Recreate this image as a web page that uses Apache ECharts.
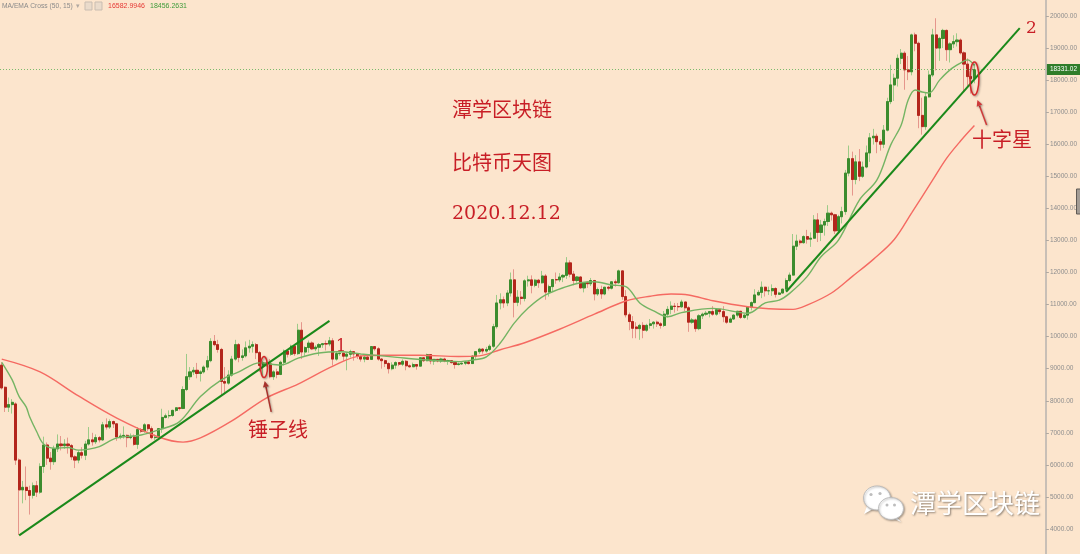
<!DOCTYPE html>
<html><head><meta charset="utf-8">
<script src="https://cdn.jsdelivr.net/npm/echarts@6/dist/echarts.min.js"></script>
<style>html,body{margin:0;padding:0;background:#FCE5CD;}#c{width:1080px;height:554px;}</style>
</head><body><div id="c"></div>
<script>
// Daily candles [open, close, low, high], 2020-03-08 .. 2020-12-12
const mar = [[9110,8400,8350,9200],[8420,7800,7650,8450],[7800,7880,7650,8100],[7880,7950,7600,8050],[7900,6150,6000,7950],[6150,5220,3810,6200],[5220,5300,4800,5500],[5300,5200,4900,5950],[5200,5050,4450,5350],[5050,5350,4950,5450],[5350,5150,5000,5500],[5150,5950,5100,6050],[5950,6620,5750,6880],[6620,6210,6000,6700],[6210,6100,5850,6400],[6100,6500,6000,6600],[6500,6650,6400,6950],[6650,6600,6450,6900],[6600,6650,6500,6800],[6650,6600,6350,6850],[6600,6250,6150,6650],[6250,6150,5900,6300],[6150,6380,6050,6450],[6380,6300,6200,6550]];
const apr = [[6300,6650,6150,6750],[6650,6780,6600,7180],[6780,6720,6600,7000],[6720,6850,6650,6950],[6850,6780,6700,6900],[6780,7250,6750,7340],[7250,7180,7100,7450],[7180,7350,7120,7420],[7350,7280,7150,7380],[7280,6870,6750,7300],[6870,6900,6800,6980],[6900,6920,6820,7200],[6920,6850,6550,6950],[6850,6870,6800,6980],[6870,6640,6600,6950],[6640,7100,6500,7180],[7100,7050,7000,7150],[7050,7250,7000,7300],[7250,7130,7050,7270],[7130,6850,6800,7200],[6850,6860,6780,6950],[6860,7130,6850,7150],[7130,7480,7000,7750],[7480,7530,7450,7600],[7530,7540,7450,7700],[7540,7700,7500,7720],[7700,7780,7650,7800],[7780,7760,7700,7800],[7760,8350,7740,8450],[8350,8750,8300,9460]];
const may = [[8750,8900,8650,9050],[8900,8950,8800,9050],[8950,8850,8700,9180],[8850,8900,8600,8950],[8900,9050,8850,9100],[9050,9250,8950,9400],[9250,9850,9200,9950],[9850,9750,9700,10050],[9750,9600,9500,9900],[9600,8600,8150,9650],[8600,8550,8200,9050],[8550,8800,8500,8950],[8800,9300,8750,9400],[9300,9750,9250,9900],[9750,9350,9200,9800],[9350,9400,9250,9600],[9400,9650,9350,9850],[9650,9700,9500,9900],[9700,9750,9500,9850],[9750,9500,9300,9800],[9500,9100,8900,9550],[9100,9180,8780,9250],[9180,9150,9050,9300],[9150,8750,8700,9300],[8750,8900,8650,8950],[8900,8820,8700,9000],[8820,9200,8800,9250],[9200,9550,9100,9600],[9550,9450,9350,9600],[9450,9700,9400,9750],[9700,9470,9400,9750]];
const jun = [[9470,10200,9430,10400],[10200,9520,9300,10450],[9520,9660,9400,9700],[9660,9800,9500,9880],[9800,9620,9580,9850],[9620,9670,9550,9730],[9670,9750,9400,9800],[9750,9780,9650,9800],[9780,9770,9570,9880],[9770,9870,9700,9990],[9870,9300,9100,9950],[9300,9470,9250,9550],[9470,9480,9400,9500],[9480,9390,9250,9500],[9390,9450,8950,9500],[9450,9530,9350,9590],[9530,9460,9250,9550],[9460,9380,9300,9480],[9380,9300,9220,9420],[9300,9360,9200,9400],[9360,9290,9270,9420],[9290,9690,9280,9700],[9690,9620,9560,9700],[9620,9300,9250,9670],[9300,9250,9000,9330],[9250,9160,9050,9280],[9160,9000,8850,9200],[9000,9110,8950,9200],[9110,9190,9000,9230],[9190,9140,9080,9200]];
const jul = [[9140,9230,9080,9290],[9230,9090,8950,9270],[9090,9060,9030,9130],[9060,9130,9050,9190],[9130,9080,8970,9140],[9080,9340,9060,9360],[9340,9250,9210,9360],[9250,9440,9230,9470],[9440,9240,9140,9450],[9240,9290,9120,9300],[9290,9240,9200,9300],[9240,9300,9180,9340],[9300,9240,9200,9340],[9240,9250,9120,9280],[9250,9190,9160,9270],[9190,9130,9000,9200],[9130,9150,9100,9190],[9150,9170,9120,9190],[9170,9210,9110,9240],[9210,9160,9130,9220],[9160,9390,9150,9420],[9390,9530,9290,9540],[9530,9610,9460,9650],[9610,9550,9470,9640],[9550,9600,9500,9680],[9600,9700,9550,9760],[9700,10310,9650,10400],[10310,11050,10250,11300],[11050,11150,10850,11350],[11150,11050,10900,11250],[11050,11360,10950,11450]];
const aug = [[11360,11770,11250,12000],[11770,11070,10600,12100],[11070,11230,10950,11450],[11230,11190,11000,11420],[11190,11740,11100,11790],[11740,11770,11560,11900],[11770,11600,11350,11910],[11600,11760,11540,11800],[11760,11680,11520,11800],[11680,11890,11650,12050],[11890,11390,11150,11950],[11390,11560,11250,11620],[11560,11780,11420,11800],[11780,11770,11650,12000],[11770,11860,11700,11980],[11860,11910,11700,11950],[11910,12300,11800,12480],[12300,11950,11850,12380],[11950,11750,11600,12050],[11750,11860,11680,11890],[11860,11520,11500,11880],[11520,11680,11380,11690],[11680,11650,11520,11720],[11650,11750,11580,11830],[11750,11330,11130,11770],[11330,11470,11270,11530],[11470,11330,11180,11590],[11330,11540,11290,11550],[11540,11510,11440,11580],[11510,11710,11470,11720],[11710,11680,11560,11780]];
const sep = [[11680,12050,11650,12090],[12050,11250,11150,12070],[11250,10680,10600,11450],[10680,10470,10200,10750],[10470,10260,9950,10640],[10300,10250,9950,10450],[10250,10350,9900,10400],[10350,10200,9950,10450],[10200,10350,10150,10400],[10350,10400,10250,10550],[10400,10450,10250,10480],[10450,10400,10300,10500],[10400,10350,10250,10450],[10350,10700,10300,10800],[10700,10850,10600,10950],[10850,10950,10700,11100],[10950,10940,10750,11050],[10940,10930,10800,11050],[10930,11080,10900,11150],[11080,10900,10800,11080],[10900,10450,10150,10950],[10450,10520,10400,10580],[10520,10250,10150,10560],[10250,10650,10200,10700],[10650,10700,10550,10750],[10700,10730,10650,10800],[10730,10780,10600,10800],[10780,10700,10650,10950],[10700,10840,10650,10860],[10840,10780,10700,10850]];
const oct = [[10780,10620,10450,10950],[10620,10450,10400,10650],[10450,10550,10450,10600],[10550,10670,10520,10700],[10670,10790,10600,10800],[10790,10600,10550,10800],[10600,10670,10560,10700],[10670,10920,10530,10950],[10920,11060,10820,11100],[11060,11300,11040,11480],[11300,11380,11280,11450],[11380,11540,11200,11720],[11540,11430,11250,11560],[11430,11430,11300,11560],[11430,11500,11270,11630],[11500,11320,11220,11540],[11320,11360,11300,11400],[11360,11480,11350,11500],[11480,11750,11420,11820],[11750,11920,11700,12000],[11920,12820,11900,13200],[12820,12980,12700,13180],[12980,12930,12850,13030],[12930,13120,12900,13160],[13120,13040,12900,13330],[13040,13070,12800,13250],[13070,13640,13050,13790],[13640,13250,12950,13850],[13250,13480,12980,13640],[13480,13590,13150,13680],[13590,13850,13450,14100]];
const nov = [[13850,13800,13620,13900],[13800,13300,13200,13830],[13300,13740,13250,13800],[13740,13900,13530,14050],[13900,15100,13800,15200],[15100,15550,15000,15960],[15550,14900,14400,15770],[14900,15450,14750,15660],[15450,15000,14850,15850],[15000,15290,14950,15460],[15290,15730,15250,15960],[15730,16200,15450,16350],[16200,16250,15990,16480],[16250,16080,15720,16330],[16080,16000,15800,16160],[16000,16440,15880,16600],[16440,17330,16400,17450],[17330,17850,17250,18480],[17850,18060,17350,18200],[18060,18680,17800,18800],[18680,18840,18500,18970],[18840,18320,17700,18900],[18320,18260,18000,18750],[18260,19410,18150,19450],[19410,19150,18900,19480],[19150,16900,16500,19200],[16900,16550,16300,17450],[16550,17480,16450,17600],[17480,18160,17450,18300],[18160,19410,18100,19600]];
const dec = [[19410,19000,18300,19930],[19000,19300,18600,19350],[19300,19550,19000,19600],[19550,18950,18600,19580],[18950,19130,18550,19180],[19130,19200,19000,19400],[19200,19250,19050,19460],[19250,18850,18800,19300],[18850,18500,17650,18900],[18500,18110,17800,18680],[18110,18050,17580,18350],[18050,18331.02,17900,18500]];

// Indicator lines: [candle index, price]
const ma50 = [[0,9300],[11,8900],[22,8150],[33,7460],[45,6870],[52,6710],[57,6840],[66,7370],[76,8090],[85,8520],[95,9080],[103,9400],[110,9420],[120,9420],[131,9380],[137,9400],[143,9590],[150,9810],[160,10230],[170,10700],[179,11110],[186,11260],[192,11330],[197,11300],[204,11120],[214,10930],[220,10870],[227,10850],[231,10980],[238,11360],[244,11880],[250,12410],[256,13030],[261,13860],[267,14880],[271,15560],[275,16100],[279,16583]];
const ema15 = [[0,9200],[3,8650],[5,8130],[7,7810],[8,7500],[10,7040],[12,6650],[15,6520],[19,6540],[22,6460],[25,6490],[28,6570],[33,6840],[40,6930],[45,7090],[51,7350],[57,8130],[63,8650],[68,8900],[74,9180],[80,9115],[85,9330],[91,9490],[97,9530],[103,9460],[112,9370],[122,9270],[131,9220],[135,9270],[139,9370],[143,9800],[147,10420],[151,10890],[156,11300],[162,11560],[166,11680],[170,11710],[175,11610],[179,11560],[183,11050],[187,10800],[191,10620],[195,10750],[204,10880],[214,10730],[219,11050],[223,11140],[226,11350],[231,11870],[235,12490],[240,13010],[246,14260],[251,14880],[255,15980],[258,16600],[260,17380],[262,17690],[264,17630],[266,17600],[269,18000],[272,18320],[275,18530],[277,18630],[279,18456]];
const trend1 = [[5,3800],[94,10490]];
const trend2 = [[225,11400],[292,19620]];
const yTicks = [4000,5000,6000,7000,8000,9000,10000,11000,12000,13000,14000,15000,16000,17000,18000,19000,20000];
const lastPrice = 18331.02;
const legendValues = ['16582.9946','18456.2631'];
const titleLines = ['潭学区块链','比特币天图','2020.12.12'];
const hammerMark = [75, 9070];
const dojiMark = [279, 18050];

const candles = [].concat(mar, apr, may, jun, jul, aug, sep, oct, nov, dec);
const SLOTS = 300;
const categories = [];
const d0 = Date.UTC(2020, 2, 8);
for (let k = 0; k < SLOTS; k++) categories.push(new Date(d0 + k * 86400000).toISOString().slice(0, 10));
const bodies = candles.map(c => [c[0], c[1], Math.min(c[0], c[1]), Math.max(c[0], c[1])]);

const UP = '#3c8c2e', DOWN = '#b3261c';
const chart = echarts.init(document.getElementById('c'), null, {renderer: 'canvas'});
const option = {
  animation: false,
  backgroundColor: '#FCE5CD',
  grid: {left: 0, right: 34, top: 0, bottom: 0, containLabel: false},
  xAxis: {type: 'category', data: categories, boundaryGap: true, show: false},
  yAxis: {
    type: 'value', position: 'right', min: 3220.3, max: 20499,
    axisLine: {show: true, lineStyle: {color: '#c8bfb6', width: 2}},
    axisTick: {show: true, length: 3, customValues: yTicks, lineStyle: {color: '#b0a8a0'}},
    axisLabel: {show: true, customValues: yTicks, color: '#8e8e8e', fontSize: 6.5, margin: 4, fontFamily: 'Liberation Sans', formatter: v => Number(v).toFixed(2)},
    splitLine: {show: false}
  },
  series: [
    {type: 'candlestick', data: candles, barWidth: 2.6, silent: true,
      itemStyle: {color: 'rgba(0,0,0,0)', color0: 'rgba(0,0,0,0)', borderColor: '#9ccb88', borderColor0: '#e5968c', borderWidth: 1}},
    {type: 'candlestick', data: bodies, barWidth: 2.6, silent: true,
      itemStyle: {color: UP, color0: DOWN, borderColor: UP, borderColor0: DOWN, borderWidth: 1},
      markLine: {symbol: ['none', 'none'], silent: true, animation: false,
        data: [{yAxis: lastPrice}],
        lineStyle: {type: [1, 2], color: '#7cbb6c', width: 1, opacity: 1},
        label: {show: true, position: 'end', distance: 1, formatter: lastPrice.toFixed(2), color: '#fff', backgroundColor: '#2f7d2a', fontSize: 6.5, fontFamily: 'Liberation Sans', padding: [2, 3, 2, 3]}}},
    {type: 'line', data: ma50, smooth: 0.35, symbol: 'none', silent: true, lineStyle: {color: '#f56a62', width: 1.4}, z: 3},
    {type: 'line', data: ema15, smooth: 0.35, symbol: 'none', silent: true, lineStyle: {color: '#74b463', width: 1.4}, z: 3},
    {type: 'line', data: trend1, symbol: 'none', silent: true, clip: false, lineStyle: {color: '#1a891a', width: 2}, z: 4},
    {type: 'line', data: trend2, symbol: 'none', silent: true, clip: false, lineStyle: {color: '#1a891a', width: 2}, z: 4}
  ]
};
chart.setOption(option);

function px(d) { return chart.convertToPixel({xAxisIndex: 0, yAxisIndex: 0}, d); }
const SH = {shadowBlur: 2, shadowColor: 'rgba(0,0,0,0.35)', shadowOffsetX: 1, shadowOffsetY: 1};
function arrow(x1, y1, x2, y2, color) {
  const dx = x2 - x1, dy = y2 - y1, L = Math.hypot(dx, dy), ux = dx / L, uy = dy / L, hl = 6, hw = 3;
  const bx = x2 - ux * hl, by = y2 - uy * hl;
  return [
    {type: 'line', z: 100, shape: {x1: x1, y1: y1, x2: bx, y2: by}, style: Object.assign({stroke: color, lineWidth: 1.5}, SH)},
    {type: 'polygon', z: 100, shape: {points: [[x2, y2], [bx - uy * hw, by + ux * hw], [bx + uy * hw, by - ux * hw]]}, style: Object.assign({fill: color}, SH)}
  ];
}
function txt(t, x, y, font, fill, extra) {
  return {type: 'text', z: 100, style: Object.assign({text: t, x: x, y: y, font: font, fill: fill, align: 'left', verticalAlign: 'middle', textAlign: 'left', textVerticalAlign: 'middle'}, extra || {})};
}
const RED = '#c81e26';
const h = px(hammerMark), dj = px(dojiMark);
const g = [];
g.push(txt(titleLines[0], 452, 109, '20px "Noto Sans CJK SC"', RED));
g.push(txt(titleLines[1], 452, 162, '20px "Noto Sans CJK SC"', RED));
g.push(txt(titleLines[2], 452, 214, '19px "DejaVu Serif"', RED));
g.push(txt('1', 336, 347, '16px "DejaVu Serif"', RED));
g.push(txt('2', 1026, 29, '17px "DejaVu Serif"', RED));
g.push(txt('锤子线', 248, 429, '20px "Noto Sans CJK SC"', RED));
g.push(txt('十字星', 972, 139, '20px "Noto Sans CJK SC"', RED));
g.push({type: 'ellipse', z: 100, shape: {cx: h[0] + 0.8, cy: h[1] + 0.6, rx: 3.5, ry: 10.5}, style: Object.assign({fill: 'none', stroke: '#d42a2a', lineWidth: 1.5}, SH)});
g.push(...arrow(h[0] + 8, h[1] + 45.5, h[0] + 1.5, h[1] + 14.5, '#a8322c'));
g.push({type: 'ellipse', z: 100, shape: {cx: dj[0], cy: dj[1], rx: 4.5, ry: 16.5}, style: Object.assign({fill: 'none', stroke: '#d42a2a', lineWidth: 1.5}, SH)});
g.push(...arrow(dj[0] + 12.2, dj[1] + 46.5, dj[0] + 3, dj[1] + 21.5, '#d03a3a'));
g.push(txt('MA/EMA Cross (50, 15)', 2, 6.5, '6.7px "Liberation Sans"', '#8a8a8a'));
g.push(txt('▾', 76, 6.5, '7px "DejaVu Sans"', '#b0a8a0'));
g.push({type: 'rect', z: 100, shape: {x: 85, y: 2, width: 7, height: 8}, style: {fill: '#eadbcb', stroke: '#c9bdb1', lineWidth: 1}});
g.push({type: 'rect', z: 100, shape: {x: 95, y: 2, width: 7, height: 8}, style: {fill: '#eadbcb', stroke: '#c9bdb1', lineWidth: 1}});
g.push(txt(legendValues[0], 108, 6.5, '7px "Liberation Sans"', '#e53935'));
g.push(txt(legendValues[1], 150, 6.5, '7px "Liberation Sans"', '#3e9b3a'));
g.push({type: 'rect', z: 100, shape: {x: 1076.5, y: 189, width: 4, height: 25}, style: {fill: '#a39c95', stroke: '#5f5a55', lineWidth: 1}});
const WS = {shadowBlur: 2, shadowColor: 'rgba(0,0,0,0.3)', shadowOffsetX: 1, shadowOffsetY: 1};
g.push({type: 'polygon', z: 100, shape: {points: [[867, 506], [864, 514], [873, 509]]}, style: Object.assign({fill: '#fff'}, WS)});
g.push({type: 'ellipse', z: 100, shape: {cx: 877, cy: 498, rx: 13.5, ry: 12}, style: Object.assign({fill: '#fff', stroke: '#bdbdbd', lineWidth: 1}, WS)});
g.push({type: 'polygon', z: 101, shape: {points: [[896, 516], [901, 522], [892, 518]]}, style: Object.assign({fill: '#fff'}, WS)});
g.push({type: 'ellipse', z: 101, shape: {cx: 891, cy: 508.5, rx: 12.5, ry: 11}, style: Object.assign({fill: '#fff', stroke: '#bdbdbd', lineWidth: 1}, WS)});
[[871, 494.5], [880, 493.5]].forEach(p => g.push({type: 'circle', z: 102, shape: {cx: p[0], cy: p[1], r: 1.6}, style: {fill: '#bdbdbd'}}));
[[887, 505], [894.5, 505]].forEach(p => g.push({type: 'circle', z: 102, shape: {cx: p[0], cy: p[1], r: 1.5}, style: {fill: '#bdbdbd'}}));
g.push(txt(titleLines[0], 910, 503.5, '26px "Noto Sans CJK SC"', '#ffffff', {textShadowColor: 'rgba(0,0,0,0.45)', textShadowBlur: 2, textShadowOffsetX: 1, textShadowOffsetY: 1}));
chart.setOption({graphic: g});
</script></body></html>
